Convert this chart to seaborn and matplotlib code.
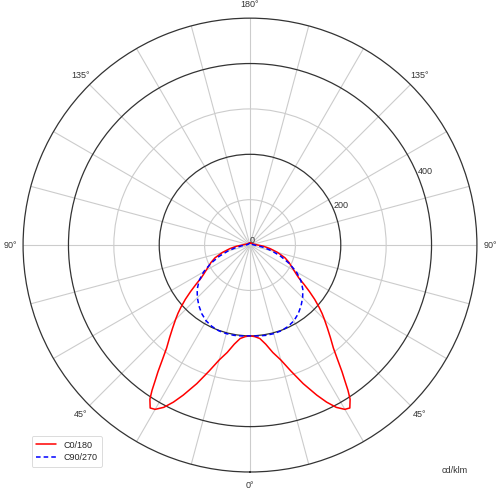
import numpy as np
import pandas as pd
import matplotlib
matplotlib.use("Agg")
import matplotlib.pyplot as plt
import seaborn as sns

# Photometric data (cd/klm), angles 0..180 deg (symmetric curves)
angles_c0 = [0, 3, 6, 9, 12, 15, 18, 21, 24, 26, 28, 30, 31.5, 33, 34, 35, 36, 37.5, 39, 41, 43, 45,
             46.5, 48, 50, 52, 54, 56, 58, 60, 63, 66, 70, 75, 80, 85, 90, 100, 120, 150, 180]
c0_180 = [200, 202, 207, 221, 242, 262, 292, 327, 362, 385, 405, 418, 421, 405, 386, 364, 345, 316,
          292, 270, 250, 232, 219, 205, 186, 166, 147, 130, 120, 112, 102, 94, 82, 63, 45, 30, 18,
          10, 6, 5, 5]
angles_c90 = [0, 5, 10, 15, 20, 25, 30, 35, 40, 45, 50, 55, 60, 65, 70, 75, 80, 85, 90, 100, 120, 150, 180]
c90_270 = [200, 201, 202, 202, 201, 198, 193, 185, 175, 164, 152, 137, 118, 95, 72, 50, 32, 18, 10,
           6, 4, 4, 4]
series_names = ["C0/180", "C90/270"]
r_ticks = [0, 100, 200, 300, 400]
r_labels = ["0", "", "200", "", "400"]
theta_tick_labels = ["0°", "", "", "45°", "", "", "90°", "", "", "135°", "", "",
                     "180°", "", "", "135°", "", "", "90°", "", "", "45°", "", ""]

sns.set_theme(style="white")
plt.rcParams["font.family"] = ["Liberation Sans", "DejaVu Sans"]

def full_curve(angs, vals):
    a = np.array(angs, dtype=float)
    v = np.array(vals, dtype=float)
    th = np.concatenate([-a[::-1], a[1:]])
    rr = np.concatenate([v[::-1], v[1:]])
    return np.deg2rad(th), rr

rows = []
for name, angs, vals in zip(series_names, [angles_c0, angles_c90], [c0_180, c90_270]):
    th, rr = full_curve(angs, vals)
    for t, r in zip(th, rr):
        rows.append({"theta": t, "r": r, "series": name})
df = pd.DataFrame(rows)

fig = plt.figure(figsize=(5.0, 4.96), dpi=100)
ax = fig.add_axes([0.046, 0.0484, 0.908, 0.915], projection="polar")
ax.set_theta_zero_location("S")
ax.set_theta_direction(1)

sns.lineplot(data=df, x="theta", y="r", hue="series", style="series",
             palette={"C0/180": "#ff0000", "C90/270": "#0000ff"},
             dashes={"C0/180": "", "C90/270": (3, 2)},
             sort=False, estimator=None, linewidth=1.1, ax=ax, zorder=5)

ax.set_ylim(0, 500)
ax.set_xlabel("")
ax.set_ylabel("")
ax.set_thetagrids(np.arange(0, 360, 15), labels=theta_tick_labels, fontsize=6.5, color="#333333")
ax.set_rticks(r_ticks)
ax.set_yticklabels(r_labels, fontsize=6.5, color="#333333")
ax.set_rlabel_position(112.5)
ax.tick_params(axis="both", which="both", length=0, width=0)
ax.tick_params(axis="x", pad=2.5)
ax.grid(True, color="#cccccc", linewidth=0.8)
for gl, v in zip(ax.yaxis.get_gridlines(), r_ticks):
    if v in (200, 400):
        gl.set_color("#333333")
        gl.set_linewidth(0.9)
ax.spines["polar"].set_color("#333333")
ax.spines["polar"].set_linewidth(0.9)

leg = ax.legend(loc="lower left", bbox_to_anchor=(0.054, 0.05), bbox_transform=fig.transFigure,
                fontsize=6.5, frameon=True, handlelength=2.2, borderpad=0.5, labelspacing=0.4)
leg.get_frame().set_edgecolor("#cccccc")
leg.get_frame().set_linewidth(0.6)

fig.text(0.91, 0.052, "cd/klm", fontsize=6.5, color="#333333", ha="center", va="center")

fig.savefig("out.png", dpi=100)
